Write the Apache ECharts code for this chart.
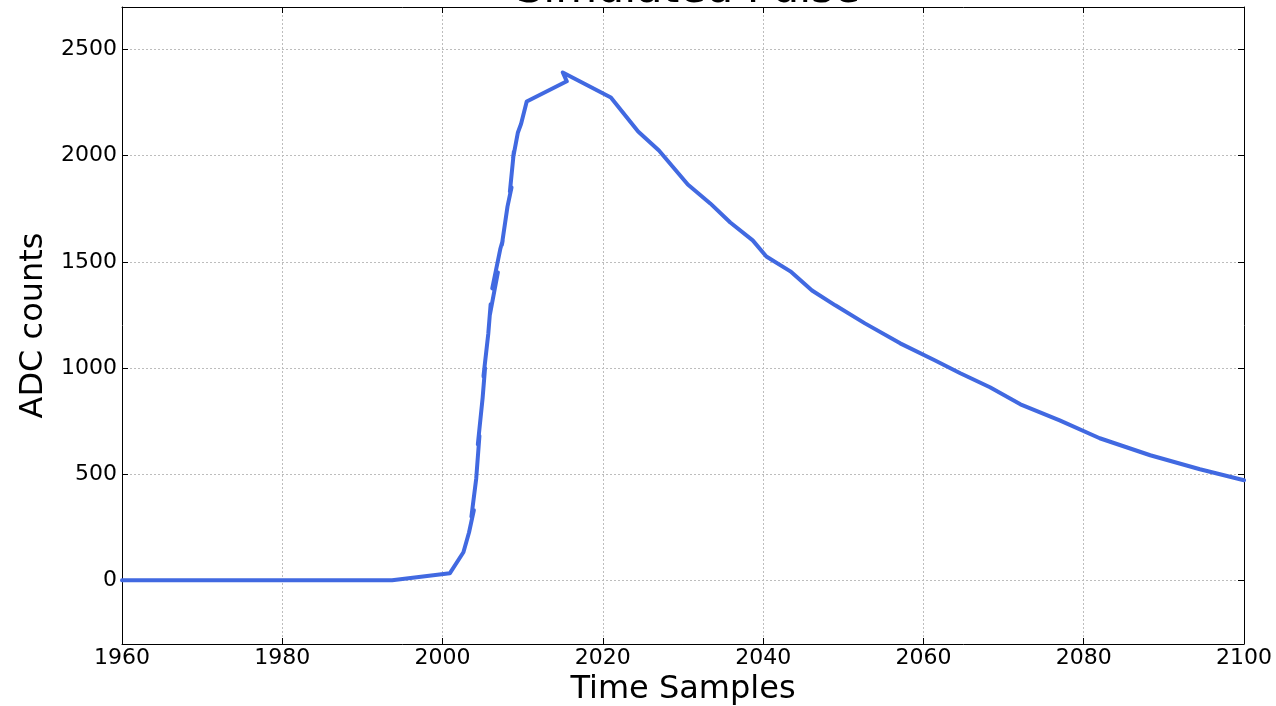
<!DOCTYPE html>
<html>
<head>
<meta charset="utf-8">
<script src="https://cdn.jsdelivr.net/npm/echarts@6/dist/echarts.min.js"></script>
<style>html,body{margin:0;padding:0;background:#fff;}#c{width:1276px;height:706px;}</style>
</head>
<body>
<div id="c"></div>
<script>
// Time samples (x) and ADC counts (y), in drawing order
const timeSamples = [1960, 1993.7, 2000.9, 2002.6, 2003.3, 2003.9, 2003.6, 2004.2, 2004.6, 2004.4, 2005.0, 2005.3, 2005.1, 2005.7, 2006.0, 2005.9, 2006.9, 2006.2, 2007.2, 2007.5, 2007.4, 2008.1, 2008.6, 2008.4, 2008.9, 2008.8, 2009.4, 2009.8, 2010.5, 2015.5, 2015.0, 2021.0, 2024.4, 2027.0, 2030.6, 2033.4, 2035.9, 2038.7, 2040.4, 2043.4, 2046.1, 2049.0, 2052.7, 2057.1, 2061.4, 2064.6, 2068.3, 2072.1, 2077.0, 2082.0, 2088.3, 2094.5, 2100];
const adcCounts   = [0, 0, 33, 132, 225, 330, 300, 480, 680, 640, 860, 1000, 960, 1160, 1300, 1250, 1450, 1375, 1560, 1600, 1580, 1760, 1850, 1830, 2020, 1990, 2109, 2150, 2255, 2350, 2392, 2274, 2114, 2024, 1864, 1775, 1685, 1601, 1525, 1455, 1365, 1295, 1210, 1116, 1036, 975, 909, 829, 753, 669, 589, 523, 471];
const xTicks = [1960, 1980, 2000, 2020, 2040, 2060, 2080, 2100];
const yTicks = [0, 500, 1000, 1500, 2000, 2500];

const chart = echarts.init(document.getElementById('c'), null, {renderer: 'canvas'});
const font = 'DejaVu Sans';
const pts = timeSamples.map((x, i) => [x, adcCounts[i]]);
const grid = {left: 122, right: 32, top: 7, bottom: 62, containLabel: false, outerBoundsMode: 'none'};
const tickStyle = {show: true, inside: true, length: 6, lineStyle: {color: '#000', width: 1}};
const gridLine = {show: true, lineStyle: {color: '#bdbdbd', type: [2, 2], width: 1}};
chart.setOption({
  animation: false,
  title: {
    text: 'Simulated Pulse', left: 683, top: -36, textAlign: 'center',
    textStyle: {fontFamily: font, fontSize: 43, fontWeight: 'normal', color: '#000'}
  },
  grid: grid,
  xAxis: [{
    type: 'value', min: 1960, max: 2100, interval: 20,
    name: 'Time Samples', nameLocation: 'middle', nameGap: 28,
    nameTextStyle: {fontFamily: font, fontSize: 32, color: '#000'},
    axisLine: {show: true, onZero: false, lineStyle: {color: '#000', width: 1}},
    axisTick: tickStyle,
    axisLabel: {fontFamily: font, fontSize: 22, color: '#000', margin: 3, customValues: xTicks, formatter: v => String(v)},
    splitLine: gridLine
  }, {
    type: 'value', position: 'top', min: 1960, max: 2100, interval: 20,
    axisLine: {show: true, onZero: false, lineStyle: {color: '#000', width: 1}},
    axisTick: tickStyle, axisLabel: {show: false}, splitLine: {show: false}
  }],
  yAxis: [{
    type: 'value', min: -300, max: 2700,
    name: 'ADC counts', nameLocation: 'middle', nameGap: 71,
    nameTextStyle: {fontFamily: font, fontSize: 32, color: '#000'},
    axisLine: {show: true, onZero: false, lineStyle: {color: '#000', width: 1}},
    axisTick: Object.assign({customValues: yTicks}, tickStyle),
    axisLabel: {fontFamily: font, fontSize: 22, color: '#000', margin: 5, customValues: yTicks, formatter: v => String(v)},
    splitLine: gridLine
  }, {
    type: 'value', position: 'right', min: -300, max: 2700,
    axisLine: {show: true, onZero: false, lineStyle: {color: '#000', width: 1}},
    axisTick: Object.assign({customValues: yTicks}, tickStyle),
    axisLabel: {show: false, customValues: yTicks}, splitLine: {show: false}
  }],
  series: [{
    type: 'line', xAxisIndex: 0, yAxisIndex: 0, data: pts,
    showSymbol: false, symbol: 'none',
    lineStyle: {color: '#4169E1', width: 4, join: 'round', cap: 'round'},
    clip: true
  }]
});
</script>
</body>
</html>
